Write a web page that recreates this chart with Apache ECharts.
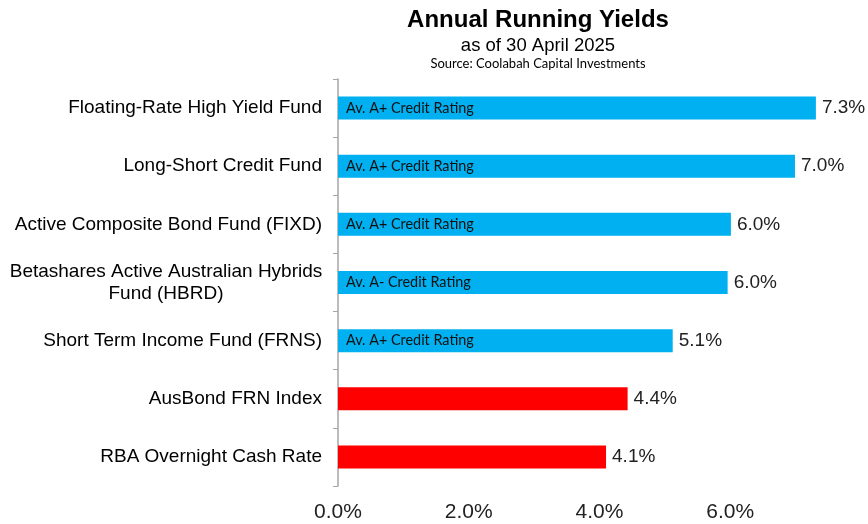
<!DOCTYPE html>
<html><head><meta charset="utf-8">
<script src="https://cdn.jsdelivr.net/npm/echarts@6/dist/echarts.min.js"></script>
<style>html,body{margin:0;padding:0;background:#fff}#c{width:868px;height:524px}</style>
</head><body><div id="c"></div>
<script>
const categories = ["Floating-Rate High Yield Fund","Long-Short Credit Fund","Active Composite Bond Fund (FIXD)","Betashares Active Australian Hybrids\nFund (HBRD)","Short Term Income Fund (FRNS)","AusBond FRN Index","RBA Overnight Cash Rate"];
const yields = [7.31, 6.99, 6.01, 5.96, 5.12, 4.43, 4.10];
const ratings = ["Av. A+ Credit Rating","Av. A+ Credit Rating","Av. A+ Credit Rating","Av. A- Credit Rating","Av. A+ Credit Rating","",""];
const barColors = ["#00B0F0","#00B0F0","#00B0F0","#00B0F0","#00B0F0","#FF0000","#FF0000"];
const xTicks = [0, 2, 4, 6, 8];

const chart = echarts.init(document.getElementById('c'), null, {renderer:'canvas'});
chart.setOption({
  animation:false,
  title:[
    {text:'Annual Running Yields', left:533, top:3, textAlign:'center', textStyle:{fontFamily:'Liberation Sans, Arial', fontSize:24, fontWeight:'bold', color:'#000'}},
    {text:'as of 30 April 2025', left:533, top:31, textAlign:'center', textStyle:{fontFamily:'Liberation Sans, Arial', fontSize:18.5, fontWeight:'normal', color:'#000'}},
    {text:'Source: Coolabah Capital Investments', left:533, top:52, textAlign:'center', textStyle:{fontFamily:'Lato, Open Sans', fontSize:13, fontWeight:'normal', color:'#000'}}
  ],
  grid:{left:338, right:7, top:79, bottom:38, containLabel:false},
  xAxis:{type:'value', min:xTicks[0], max:xTicks[xTicks.length-1], interval:2,
    axisLine:{show:false}, axisTick:{show:false}, splitLine:{show:false},
    axisLabel:{showMaxLabel:false, margin:16, fontFamily:'Liberation Sans, Arial', fontSize:21, color:'#222', formatter:v=>v.toFixed(1)+'%'}},
  yAxis:{type:'category', data:categories, inverse:true,
    axisLine:{show:true, lineStyle:{color:'#A6A6A6', width:1.5}},
    axisTick:{show:true, inside:false, length:5, lineStyle:{color:'#A6A6A6'}},
    axisLabel:{margin:16, fontFamily:'Liberation Sans, Arial', fontSize:19, color:'#000', lineHeight:22,
      formatter:v=> v.indexOf('\n')>=0 ? v.split('\n').map(l=>'{c|'+l+'}').join('\n') : v,
      rich:{c:{width:312, align:'center', fontFamily:'Liberation Sans, Arial', fontSize:19, color:'#000', lineHeight:22}}}},
  series:[
    {type:'bar', barWidth:23, data:yields.map((v,i)=>({value:v, itemStyle:{color:barColors[i]}})),
      label:{show:true, position:'insideLeft', distance:8, fontFamily:'Lato, Open Sans', fontSize:14.4, color:'#111',
        formatter:p=>ratings[p.dataIndex]}},
    {type:'bar', barWidth:23, barGap:'-100%', data:yields, itemStyle:{color:'rgba(0,0,0,0)'}, silent:true,
      label:{show:true, position:'right', distance:6, fontFamily:'Liberation Sans, Arial', fontSize:19, color:'#222',
        formatter:p=>p.value.toFixed(1)+'%'}}
  ]
});
</script></body></html>
